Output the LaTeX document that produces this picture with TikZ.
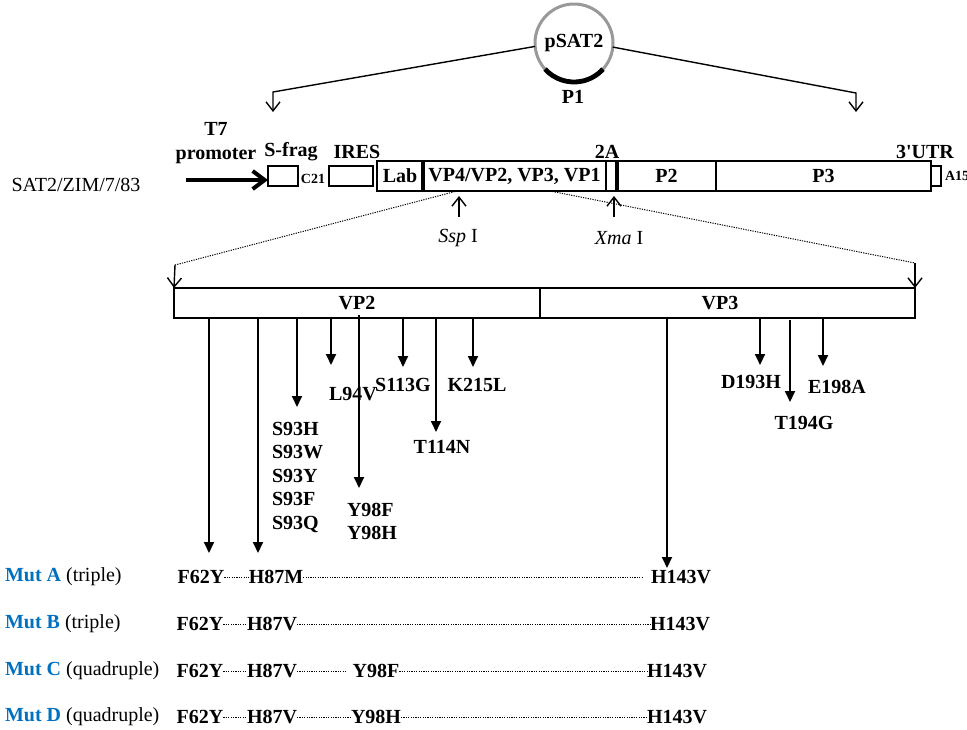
\documentclass[tikz,border=0pt]{standalone}
\usepackage{fontspec}
\setmainfont{Liberation Serif}
\usetikzlibrary{arrows.meta,positioning}
\definecolor{mutblue}{RGB}{0,112,192}
\begin{document}
\begin{tikzpicture}[x=0.5pt,y=-0.5pt,
  every node/.style={inner sep=0pt,outer sep=0pt,font=\bfseries\fontsize{10}{11.75}\selectfont},
  seg/.style={draw,line width=0.75pt,minimum height=15pt},
  small/.style={font=\bfseries\fontsize{7}{8}\selectfont},
  plain/.style={font=\fontsize{10}{12}\selectfont},
  barb/.style={line width=0.7pt,-{Straight Barb[length=4.5pt,width=7pt]}},
  fine/.style={line width=0.5pt,dash pattern=on 0.6pt off 0.6pt},
  mut/.style={line width=0.9pt,-{Triangle[length=5.5pt,width=5pt]}}]
\useasboundingbox (0,0) rectangle (967,729);
% plasmid
\node[circle,draw=black!40,line width=1.5pt,minimum size=39pt] (pl) at (574,43) {pSAT2};
\draw[line width=2.4pt] (pl.center) ++(222:19.5pt) arc[start angle=222,end angle=318,radius=19.5pt];
\node (p1) at (573,97) {P1};
\coordinate (kl) at (273,92); \coordinate (kl2) at (273,112);
\coordinate (kr) at (856,93); \coordinate (kr2) at (856,112);
\draw[barb] (pl.185) -- (kl) -- (kl2);
\draw[barb] (pl.354) -- (kr) -- (kr2);
% genome
\node[plain] (sat) at (76,185) {SAT2/ZIM/7/83};
\node[align=center] (t7) at (216,143) {T7\\promoter};
\node[seg,minimum width=15pt,minimum height=10pt] (sfrag) at (283,176) {};
\node (sfl) at (291,152) {S-frag};
\node[small] (c21) at (313,179) {C21};
\node[seg,minimum width=22pt,minimum height=10pt] (ires) at (351,176) {};
\node (iresl) at (357,152) {IRES};
\node[seg,minimum width=23pt] (lab) at (400,176) {Lab};
\node[seg,minimum width=91.5pt,right=0pt of lab] (vp) {VP4/VP2, VP3, VP1};
\node[seg,minimum width=5.5pt,right=0pt of vp] (twoa) {};
\node[seg,minimum width=49.5pt,right=0pt of twoa] (p2) {P2};
\node[seg,minimum width=107.5pt,right=0pt of p2] (p3) {P3};
\node[seg,minimum width=5pt,minimum height=10pt,right=0pt of p3] (a15) {};
\node[small,right=2pt of a15] (a15l) {A15};
\node (twoal) at (607,152) {2A};
\node (utr) at (925,152) {3\textquotesingle UTR};
\draw[line width=1.6pt] (vp.north west) -- (vp.south west) (p2.north west) -- (p2.south west);
\coordinate (t7s) at (186,180);
\draw[line width=2pt,-{Straight Barb[length=6pt,width=9pt]}] (t7s) -- (t7s -| sfrag.west);
% restriction sites
\coordinate (sspt) at (459,196); \coordinate (sspb) at (459,217);
\coordinate (xmat) at (614,196); \coordinate (xmab) at (614,217);
\draw[barb] (sspb) -- (sspt); \draw[barb] (xmab) -- (xmat);
\node[plain] (ssp) at (458,238) {\textit{Ssp} I};
\node[plain] (xma) at (619,238) {\textit{Xma} I};
% capsid close-up
\node[seg,minimum width=183pt] (vp2) at (357,303) {VP2};
\node[seg,minimum width=187.5pt,right=0pt of vp2] (vp3) {\hspace*{-7.5pt}VP3};
\coordinate (dl) at (457,191); \coordinate (dl2) at (175,265);
\coordinate (dr) at (550,191); \coordinate (dr2) at (915,263);
\draw[fine] (dl) -- (dl2); \draw[fine] (dr) -- (dr2);
\draw[barb] (dl2) -- (vp2.north west); \draw[barb] (dr2) -- (vp3.north east);
\foreach \n/\x/\a/\b in {1/209/318/553,2/258/318/553,3/297/318/407,4/331/318/365,5/359/315/488,6/403/318/367,7/436/318/432,8/473/318/367,9/667/318/568,10/760/318/365,11/790/320/402,12/823/318/366}
  {\coordinate (s\n) at (\x,\a); \coordinate (e\n) at (\x,\b); \draw[mut] (s\n) -- (e\n);}
\node (l94v) at (353,394) {L94V};
\node[align=left,anchor=north west] (s93) at (272,422) {S93H\\S93W\\S93Y\\S93F\\S93Q};
\node[align=left,anchor=north west] (y98) at (347,503) {Y98F\\Y98H};
\node (s113g) at (403,385) {S113G};
\node (t114n) at (442,447) {T114N};
\node (k215l) at (477,385) {K215L};
\node (d193h) at (751,382) {D193H};
\node (t194g) at (804,423) {T194G};
\node (e198a) at (837,387) {E198A};
% mutants
\foreach \r/\y/\t/\k in {a/577/A/triple,b/624/B/triple,c/671/C/quadruple,d/717/D/quadruple}
  \node[plain,anchor=west] (mut\r) at (5,\y) {\textcolor{mutblue}{\bfseries Mut \t} (\k)};
\node (f62a) at (201,577) {F62Y}; \node (h87a) at (276,577) {H87M}; \node (h143a) at (681,577) {H143V};
\node (f62b) at (200,624) {F62Y}; \node (h87b) at (272,624) {H87V}; \node (h143b) at (680,624) {H143V};
\node (f62c) at (200,671) {F62Y}; \node (h87c) at (272,671) {H87V}; \node (y98c) at (376,671) {Y98F}; \node (h143c) at (677,671) {H143V};
\node (f62d) at (200,717) {F62Y}; \node (h87d) at (272,717) {H87V}; \node (y98d) at (376,717) {Y98H}; \node (h143d) at (677,717) {H143V};
\draw[fine] (f62a) -- (h87a); \draw[fine,shorten >=4.5pt] (h87a) -- (h143a);
\draw[fine] (f62b) -- (h87b) -- (h143b);
\draw[fine] (f62c) -- (h87c); \draw[fine,shorten >=3pt] (h87c) -- (y98c); \draw[fine] (y98c) -- (h143c);
\draw[fine] (f62d) -- (h87d) -- (y98d) -- (h143d);
\end{tikzpicture}
\end{document}
